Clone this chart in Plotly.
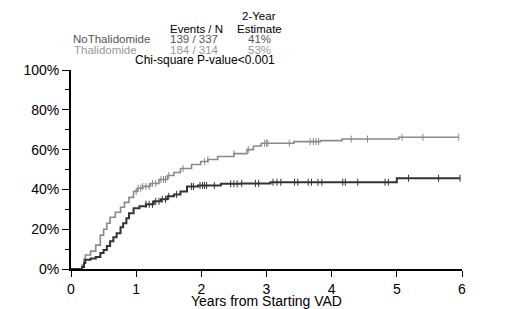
import numpy as np
import plotly.graph_objects as go

# NoThalidomide (black) cumulative incidence step points
no_t = [0, 0.17, 0.2, 0.22, 0.3, 0.38, 0.45, 0.5, 0.55, 0.6, 0.65, 0.7, 0.76, 0.8, 0.85, 0.89,
        0.96, 1.05, 1.15, 1.27, 1.38, 1.48, 1.58, 1.68, 1.78, 1.95, 2.3, 2.6, 3.06, 5.0, 5.97]
no_y = [0, 1, 3, 4.7, 5.3, 6, 8, 9.5, 11.5, 14, 16, 18, 21, 23, 25.5, 28,
        30.5, 31.5, 32.5, 34, 35, 36.5, 37.5, 39, 41.5, 42, 42.8, 43, 43.6, 45.6, 45.6]
no_cens = [1.15, 1.2, 1.25, 1.3, 1.35, 1.4, 1.45, 1.5, 1.62, 1.85, 1.88, 1.98, 2.02, 2.05, 2.08,
           2.2, 2.45, 2.5, 2.55, 2.62, 2.83, 2.88, 3.1, 3.16, 3.22, 3.43, 3.48, 3.64, 3.69,
           3.79, 3.85, 4.17, 4.21, 4.4, 4.82, 4.87, 5.18, 5.64, 5.97]

# Thalidomide (gray)
th_t = [0, 0.17, 0.2, 0.22, 0.3, 0.38, 0.45, 0.5, 0.55, 0.6, 0.68, 0.76, 0.82, 0.89, 0.96, 1.02,
        1.1, 1.22, 1.35, 1.48, 1.58, 1.68, 1.85, 1.99, 2.1, 2.25, 2.5, 2.7, 2.8, 2.92, 3.42,
        3.83, 4.16, 5.03, 5.95]
th_y = [0, 2, 5, 7, 9, 12, 17, 20, 23, 26, 28.5, 31, 33.5, 36, 39, 40.6,
        41.5, 43, 45, 47, 48.5, 50.5, 52.5, 54, 55, 56.5, 58, 60, 61.8, 63.2, 64,
        64.5, 65.3, 66.2, 66.2]
th_cens = [1.0, 1.03, 1.07, 1.1, 1.15, 1.2, 1.25, 1.3, 1.38, 1.42, 1.45, 1.5, 1.72, 2.05, 2.1,
           2.5, 2.72, 2.97, 3.0, 3.02, 3.35, 3.67, 3.72, 3.76, 3.8, 4.3, 4.55, 5.08, 5.4, 5.95]

y_ticks = [0, 20, 40, 60, 80, 100]
y_labels = ["0%", "20%", "40%", "60%", "80%", "100%"]
x_ticks = [0, 1, 2, 3, 4, 5, 6]

BLACK = "#333333"
GRAY = "#8a8a8a"
FONT = "Liberation Sans, Arial, sans-serif"


def step_at(ts, ys, c):
    idx = np.searchsorted(np.array(ts), np.array(c), side="right") - 1
    return list(np.array(ys)[idx])


fig = go.Figure()
fig.add_trace(go.Scatter(x=th_t, y=th_y, mode="lines", line=dict(color=GRAY, width=1.6, shape="hv"),
                         showlegend=False))
fig.add_trace(go.Scatter(x=th_cens, y=step_at(th_t, th_y, th_cens), mode="markers",
                         marker=dict(symbol="line-ns", size=5, line=dict(color=GRAY, width=1)),
                         showlegend=False))
fig.add_trace(go.Scatter(x=no_t, y=no_y, mode="lines", line=dict(color=BLACK, width=2, shape="hv"),
                         showlegend=False))
fig.add_trace(go.Scatter(x=no_cens, y=step_at(no_t, no_y, no_cens), mode="markers",
                         marker=dict(symbol="line-ns", size=5, line=dict(color=BLACK, width=1)),
                         showlegend=False))

# page body has an 8px margin; figure is sized so it fits the 520x309 window
OFF = 8
W, H = 520 - OFF, 309 - OFF
L, R, T, B = 71 - OFF, 462 - OFF, 70 - OFF, 269 - OFF


def px(x):
    return (x - OFF - L) / (R - L)


def py(y):
    return (B - (y - OFF)) / (B - T)


ann = []


def add(text, x, y, color="#000", size=11.5, xanchor="center"):
    ann.append(dict(text=text, x=px(x), y=py(y), xref="paper", yref="paper", showarrow=False,
                    xanchor=xanchor, yanchor="middle", font=dict(family=FONT, size=size, color=color)))


add("2-Year", 259, 16)
add("Events / N", 196, 29)
add("Estimate", 259, 29)
add("NoThalidomide", 71, 39, color="#555555", xanchor="left")
add("139 / 337", 194, 39, color="#555555")
add("41%", 259, 39, color="#555555")
add("Thalidomide", 72, 50, color="#999999", xanchor="left")
add("184 / 314", 194, 50, color="#999999")
add("53%", 259, 50, color="#999999")
add("Chi-square P-value<0.001", 205, 60, color="#000000", size=12)

fig.update_layout(
    width=W, height=H,
    margin=dict(l=L, r=W - R, t=T, b=H - B, pad=0),
    paper_bgcolor="white", plot_bgcolor="white",
    font=dict(family=FONT, size=14, color="#000"),
    annotations=ann,
    xaxis=dict(range=[0, 6], tickvals=x_ticks, ticks="outside", ticklen=6, tickcolor="#000",
               showline=True, linecolor="#000", linewidth=2, showgrid=False, zeroline=False,
               automargin=False,
               tickfont=dict(size=14), title=dict(text="Years from Starting VAD", standoff=0,
                                                  font=dict(size=14))),
    yaxis=dict(range=[0, 100], tickvals=y_ticks, ticktext=y_labels, ticks="outside", ticklen=7,
               tickcolor="#000", showline=True, linecolor="#000", linewidth=2, showgrid=False,
               zeroline=False, tickfont=dict(size=14), automargin=False,
               minor=dict(dtick=10, ticks="outside", ticklen=4, tickcolor="#000", showgrid=False)),
)

fig.write_html("out.html")
